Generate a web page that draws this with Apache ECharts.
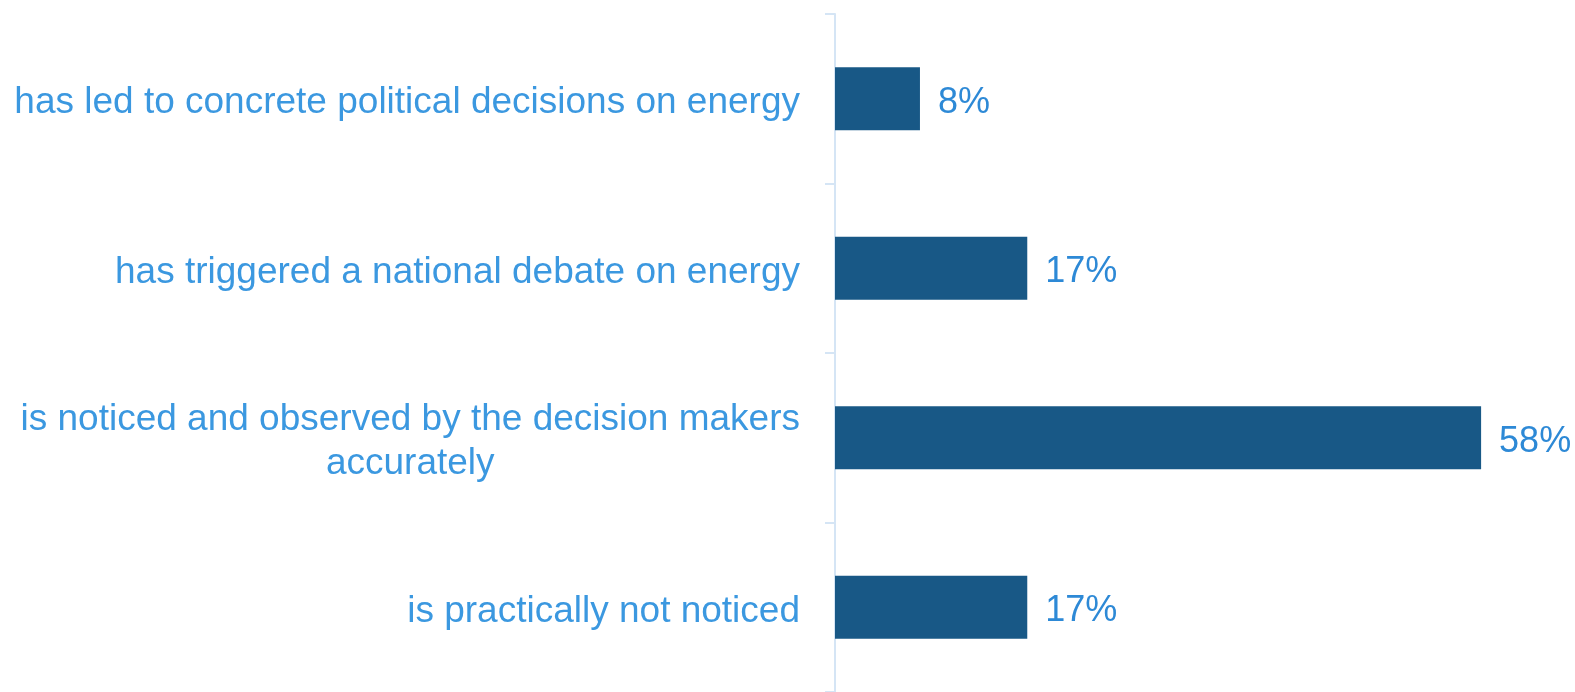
<!DOCTYPE html>
<html><head><meta charset="utf-8">
<script src="https://cdn.jsdelivr.net/npm/echarts@6/dist/echarts.min.js"></script>
<style>html,body{margin:0;padding:0;background:#fff}#c{width:1575px;height:692px}</style>
</head><body><div id="c"></div>
<script>
const categories = [
  "has led to concrete political decisions on energy",
  "has triggered a national debate on energy",
  "is noticed and observed by the decision makers\naccurately",
  "is practically not noticed"
];
const values = [7.6, 17.2, 57.8, 17.2];

const FONT = 'Liberation Sans, Arial, sans-serif';
const chart = echarts.init(document.getElementById('c'), null, {renderer: 'canvas'});
chart.setOption({
  animation: false,
  grid: {left: 835, right: 0, top: 14, bottom: -1, containLabel: false},
  xAxis: {
    type: 'value', min: 0, max: 66.2,
    show: false
  },
  yAxis: {
    type: 'category', inverse: true, data: categories,
    axisLine: {show: true, lineStyle: {color: '#d5e5f5', width: 2}},
    axisTick: {show: true, length: 10, lineStyle: {color: '#d5e5f5', width: 2}},
    axisLabel: {
      margin: 35,
      fontFamily: FONT,
      fontSize: 37, color: '#3b98e0', lineHeight: 44,
      padding: [9, 0, 0, 0],
      formatter: v => v.split('\n').map(s => '{c|' + s + '}').join('\n'),
      rich: {c: {align: 'center', fontFamily: FONT, fontSize: 37, color: '#3b98e0', lineHeight: 44}}
    }
  },
  series: [{
    type: 'bar', data: values, barWidth: 63,
    itemStyle: {color: '#185886'},
    label: {
      show: true, position: 'right', distance: 18, offset: [0, 4],
      fontFamily: FONT, fontSize: 36, color: '#2d89d6',
      formatter: p => Math.round(p.value) + '%'
    }
  }]
});
</script></body></html>
